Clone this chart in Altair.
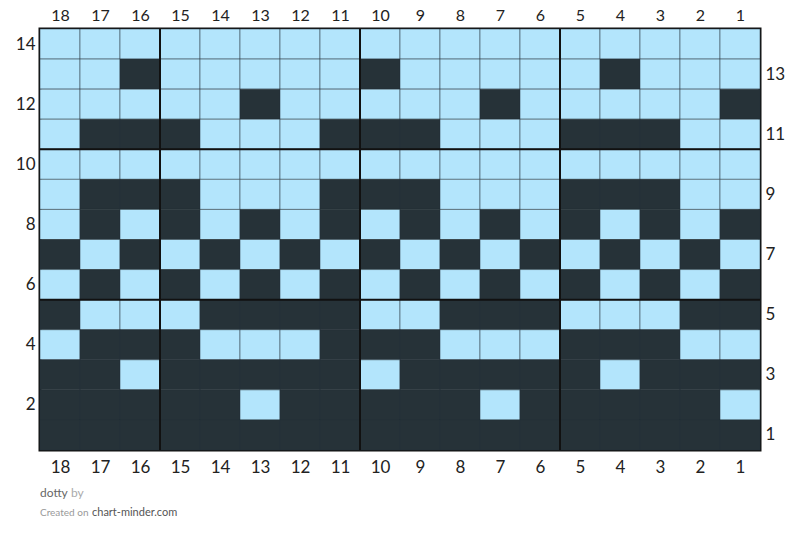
import altair as alt
import pandas as pd

# chart rows, top (row 14) to bottom (row 1); each string runs from column 18 to column 1
# L = light stitch, D = dark stitch
row_numbers = list(range(14, 0, -1))
row_patterns = [
    "LLLLLLLLLLLLLLLLLL",
    "LLDLLLLLDLLLLLDLLL",
    "LLLLLDLLLLLDLLLLLD",
    "LDDDLLLDDDLLLDDDLL",
    "LLLLLLLLLLLLLLLLLL",
    "LDDDLLLDDDLLLDDDLL",
    "LDLDLDLDLDLDLDLDLD",
    "DLDLDLDLDLDLDLDLDL",
    "LDLDLDLDLDLDLDLDLD",
    "DLLLDDDDLLDDDLLLDD",
    "LDDDLLLDDDLLLDDDLL",
    "DDLDDDDDLDDDDDLDDD",
    "DDDDDLDDDDDLDDDDDL",
    "DDDDDDDDDDDDDDDDDD",
]
col_numbers = list(range(18, 0, -1))
col_guides = [5.5, 10.5, 15.5]
row_guides = [5.5, 10.5]

cells = []
for r, pattern in zip(row_numbers, row_patterns):
    for c, s in zip(col_numbers, pattern):
        cells.append({"col": c, "row": r, "stitch": s})
df = pd.DataFrame(cells)

FONT = "Lato"
xscale = alt.Scale(domain=[0.5, 18.5], reverse=True, nice=False, zero=False)
yscale = alt.Scale(domain=[0.5, 14.5], nice=False, zero=False)

def axis(orient, values, pad, size=17):
    return alt.Axis(orient=orient, values=values, title=None, ticks=False, domain=False,
                    grid=False, labelFontSize=size, labelFont=FONT, labelColor="#222",
                    labelPadding=pad, labelAngle=0)

base = alt.Chart(df).transform_calculate(
    x0="datum.col - 0.5", x1="datum.col + 0.5",
    y0="datum.row - 0.5", y1="datum.row + 0.5",
)

cells_layer = base.mark_rect(stroke="#263238", strokeWidth=1, strokeOpacity=0.5).encode(
    x=alt.X("x0:Q", scale=xscale, axis=axis("top", col_numbers, 6, 16)),
    x2="x1:Q",
    y=alt.Y("y0:Q", scale=yscale, axis=axis("left", list(range(2, 15, 2)), 5)),
    y2="y1:Q",
    color=alt.Color("stitch:N", scale=alt.Scale(domain=["L", "D"], range=["#b3e5fc", "#263238"]),
                    legend=None),
)

axes_layer = base.mark_rect(opacity=0).encode(
    x=alt.X("x0:Q", scale=xscale, axis=axis("bottom", col_numbers, 9)),
    x2="x1:Q",
    y=alt.Y("y0:Q", scale=yscale, axis=axis("right", list(range(1, 14, 2)), 5)),
    y2="y1:Q",
)

vrules = alt.Chart(pd.DataFrame({"v": col_guides})).mark_rule(color="#111", strokeWidth=2).encode(
    x=alt.X("v:Q", scale=xscale, axis=None)
)
hrules = alt.Chart(pd.DataFrame({"v": row_guides})).mark_rule(color="#111", strokeWidth=2).encode(
    y=alt.Y("v:Q", scale=yscale, axis=None)
)

footer = pd.DataFrame([
    {"t": "dotty", "px": 0, "py": 464, "size": 12, "c": "#666"},
    {"t": "by", "px": 31, "py": 464, "size": 12, "c": "#aaa"},
    {"t": "Created on", "px": 0, "py": 484, "size": 10, "c": "#999"},
    {"t": "chart-minder.com", "px": 52, "py": 484, "size": 11, "c": "#555"},
])
footer_layer = alt.Chart(footer).mark_text(align="left", baseline="middle", font=FONT).encode(
    x=alt.X("px:Q", scale=None),
    y=alt.Y("py:Q", scale=None),
    text="t:N",
    size=alt.Size("size:Q", scale=None, legend=None),
    color=alt.Color("c:N", scale=None, legend=None),
)

chart = alt.layer(cells_layer, axes_layer, vrules, hrules, footer_layer).resolve_axis(
    x="independent", y="independent"
).properties(
    width=720, height=421,
    autosize=alt.AutoSizeParams(type="none"),
    padding={"left": 32, "top": 21, "right": 32, "bottom": 85},
).configure_view(stroke="#111", strokeWidth=3)

chart.save("out.html", embed_options={"renderer": "svg", "actions": False})
